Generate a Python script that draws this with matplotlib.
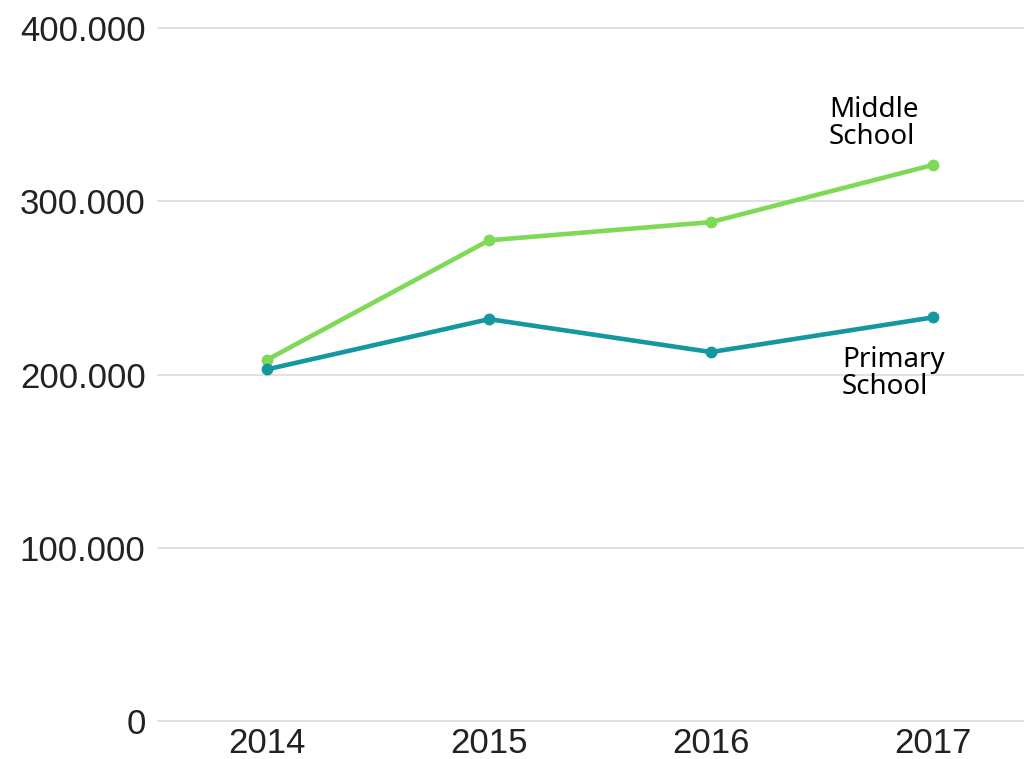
import matplotlib.pyplot as plt
from matplotlib.ticker import FuncFormatter

years = ['2014', '2015', '2016', '2017']
middle_school = [208500, 277500, 288000, 321000]
primary_school = [203000, 232000, 213000, 233000]
y_ticks = [0, 100000, 200000, 300000, 400000]

green = '#7ed957'
teal = '#12989e'

fig = plt.figure(figsize=(10.24, 7.59), dpi=100)
ax = fig.add_axes([0.1543, 0.050, 0.8457, 0.913])

x = list(range(len(years)))
ax.plot(x, middle_school, color=green, linewidth=3.3, marker='o', markersize=7.5, zorder=3)
ax.plot(x, primary_school, color=teal, linewidth=3.3, marker='o', markersize=7.5, zorder=4)

ax.set_xlim(-0.491, 3.41)
ax.set_ylim(0, 400000)
ax.set_yticks(y_ticks)
ax.yaxis.set_major_formatter(FuncFormatter(
    lambda v, p: '0' if v == 0 else f'{int(v):,}'.replace(',', '.')))
ax.set_xticks(x)
ax.set_xticklabels(years)

ax.grid(axis='y', color='#d9d9d9', linewidth=1.1, clip_on=False)
ax.set_axisbelow(True)
for s in ax.spines.values():
    s.set_visible(False)
ax.tick_params(axis='both', length=0)
ax.tick_params(axis='y', pad=9)
ax.tick_params(axis='x', pad=4)
for lab in ax.get_yticklabels():
    lab.set_fontfamily('Liberation Sans')
    lab.set_fontsize(25)
    lab.set_color('#222222')
for lab in ax.get_xticklabels():
    lab.set_fontfamily('Liberation Sans')
    lab.set_fontsize(25)
    lab.set_color('#222222')

ax.text(2.532, 361000, 'Middle\nSchool', fontsize=20, family='Noto Sans',
        va='top', ha='left', linespacing=0.95, color='black')
ax.text(2.59, 216500, 'Primary\nSchool', fontsize=20, family='Noto Sans',
        va='top', ha='left', linespacing=0.95, color='black')

fig.savefig('out.png', dpi=100)
